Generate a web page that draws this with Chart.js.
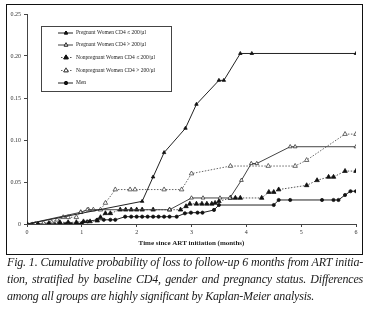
<!DOCTYPE html>
<html>
<head>
<meta charset="utf-8">
<script src="https://cdn.jsdelivr.net/npm/chart.js@4/dist/chart.umd.min.js"></script>
<style>
html, body { margin: 0; padding: 0; background: #fff; width: 368px; height: 314px; overflow: hidden; }
#wrap { position: absolute; left: 0; top: 0; width: 368px; height: 256px; }
#frame { position: absolute; left: 6px; top: 4px; width: 355px; height: 249px; border: 1.5px solid #111; pointer-events: none; }
#caption { position: absolute; left: 7px; top: 254px; width: 356px; font-family: "Liberation Serif", serif; font-style: italic; font-size: 12px; letter-spacing: -0.2px; line-height: 17px; color: #1b1b1b; }
#caption div { white-space: nowrap; }
#caption .j { text-align: justify; text-align-last: justify; }
</style>
</head>
<body>
<div id="wrap"><canvas id="kmChart"></canvas></div>
<div id="frame"></div>
<div id="caption">
  <div class="j">Fig. 1. Cumulative probability of loss to follow-up 6 months from ART initia-</div>
  <div class="j">tion, stratified by baseline CD4, gender and pregnancy status. Differences</div>
  <div>among all groups are highly significant by Kaplan-Meier analysis.</div>
</div>
<script>
const seriesNames = [
    "Pregnant Women CD4 \u2264 200/\u00b5l",
    "Pregnant Women CD4 > 200/\u00b5l",
    "Nonpregnant Women CD4 \u2264 200/\u00b5l",
    "Nonpregnant Women CD4 > 200/\u00b5l",
    "Men"
]

// months since ART start / cumulative probability of loss
const pregLowT = [0, 2.1, 2.3, 2.5, 2.89, 3.09, 3.5, 3.59, 3.89, 4.1, 6.0]
const pregLowP = [0, 0.027, 0.056, 0.085, 0.114, 0.1425, 0.171, 0.171, 0.203, 0.203, 0.203]

const pregHighT = [0, 0.98, 1.1, 2.6, 3.0, 3.21, 3.52, 3.7, 3.91, 4.09, 4.19, 4.8, 4.89, 6.0]
const pregHighP = [0, 0.014, 0.017, 0.017, 0.031, 0.031, 0.031, 0.031, 0.052, 0.072, 0.072, 0.092, 0.092, 0.092]

const nonpregLowT = [0, 0.2, 0.4, 0.6, 0.75, 0.9, 1.03, 1.15, 1.28, 1.34, 1.43, 1.52, 1.7, 1.8, 1.9, 2.0, 2.1, 2.3,
    2.6, 2.8, 2.9, 2.97, 3.09, 3.19, 3.28, 3.37, 3.43, 3.5, 3.71, 3.8, 3.89, 4.28, 4.41, 4.5, 4.59, 5.1, 5.29, 5.5, 5.59, 5.8, 6.0]
const nonpregLowP = [0, 0, 0.001, 0.002, 0.002, 0.002, 0.003, 0.003, 0.004, 0.008, 0.0127, 0.0127, 0.017, 0.017, 0.017, 0.017, 0.017, 0.017,
    0.017, 0.017, 0.021, 0.024, 0.024, 0.024, 0.024, 0.024, 0.025, 0.027, 0.031, 0.031, 0.031, 0.031, 0.038, 0.038, 0.041, 0.046, 0.052, 0.056, 0.056, 0.063, 0.063]

const nonpregHighT = [0, 0.15, 0.3, 0.45, 0.55, 0.66, 0.75, 0.9, 0.98, 1.12, 1.21, 1.34, 1.43, 1.61, 1.88, 1.97, 2.5, 2.82, 3.0, 3.71, 4.4, 4.89, 5.1, 5.8, 6.0]
const nonpregHighP = [0, 0, 0.001, 0.002, 0.005, 0.008, 0.008, 0.008, 0.014, 0.017, 0.017, 0.017, 0.025, 0.041, 0.041, 0.041, 0.041, 0.041, 0.06, 0.069, 0.069, 0.069, 0.076, 0.107, 0.107]

const menT = [0, 0.1, 0.2, 0.3, 0.4, 0.5, 0.6, 0.7, 0.8, 0.9, 1.0, 1.1, 1.28, 1.4, 1.52, 1.61, 1.79, 1.9, 2.0, 2.1, 2.2,
    2.3, 2.4, 2.5, 2.6, 2.73, 2.88, 2.99, 3.11, 3.2, 3.41, 3.5, 4.5, 4.59, 4.8, 5.38, 5.59, 5.68, 5.8, 5.9, 6.0]
const menP = [0, 0, 0, 0, 0, 0, 0, 0, 0, 0, 0.001, 0.003, 0.005, 0.005, 0.005, 0.005, 0.0087, 0.0087, 0.0087, 0.0087, 0.0087,
    0.0087, 0.0087, 0.0087, 0.0087, 0.0087, 0.0127, 0.0135, 0.0135, 0.0135, 0.0167, 0.0226, 0.0226, 0.0286, 0.0286, 0.0286, 0.0286, 0.0286, 0.0345, 0.039, 0.039]

const xTitle = "Time since ART initiation (months)"

function points(t, p) {
    return t.map((v, i) => ({ x: v, y: p[i] }))
}

function series(label, t, p, style) {
    return Object.assign({
        label: label,
        data: points(t, p),
        showLine: true,
        tension: 0,
        borderWidth: 1,
        pointBorderWidth: 0.8
    }, style)
}

const serif = "'Liberation Serif', 'Times New Roman', serif"

// legend drawn as a framed box inside the plot, like the original
const boxLegend = {
    id: "boxLegend",
    afterDraw(chart) {
        const ctx = chart.ctx
        const rows = [33, 45, 57.5, 70.5, 83]
        ctx.save()
        ctx.strokeStyle = "#444"
        ctx.lineWidth = 1
        ctx.strokeRect(41.5, 26.5, 130, 65)
        chart.data.datasets.forEach((ds, i) => {
            const y = rows[i]
            ctx.beginPath()
            ctx.setLineDash(ds.borderDash || [])
            ctx.strokeStyle = ds.borderColor
            ctx.lineWidth = 1
            ctx.moveTo(ds.borderDash ? 61 : 58, y)
            ctx.lineTo(73, y)
            ctx.stroke()
            ctx.setLineDash([])
            Chart.helpers.drawPoint(ctx, {
                pointStyle: ds.pointStyle,
                radius: ds.pointRadius,
                borderWidth: ds.pointBorderWidth,
                rotation: 0
            }, 66, y)
            ctx.fillStyle = ds.pointBackgroundColor
            ctx.strokeStyle = ds.pointBorderColor
            ctx.fill()
            ctx.stroke()
            ctx.fillStyle = "#222"
            ctx.font = "5.5px " + serif
            ctx.textBaseline = "middle"
            ctx.fillText(ds.label, 76, y)
        })
        ctx.restore()
    }
}

new Chart(document.getElementById("kmChart"), {
    type: "scatter",
    data: {
        datasets: [
            series(seriesNames[0], pregLowT, pregLowP, {
                borderColor: "#222", pointStyle: "triangle", pointRadius: 2,
                pointBackgroundColor: "#111", pointBorderColor: "#111"
            }),
            series(seriesNames[1], pregHighT, pregHighP, {
                borderColor: "#444", pointStyle: "triangle", pointRadius: 2.2,
                pointBackgroundColor: "#fff", pointBorderColor: "#333"
            }),
            series(seriesNames[2], nonpregLowT, nonpregLowP, {
                borderColor: "#555", borderDash: [1.5, 1.5], pointStyle: "triangle", pointRadius: 2.6,
                pointBackgroundColor: "#111", pointBorderColor: "#111"
            }),
            series(seriesNames[3], nonpregHighT, nonpregHighP, {
                borderColor: "#666", borderDash: [1.5, 1.5], pointStyle: "triangle", pointRadius: 2.6,
                pointBackgroundColor: "#fff", pointBorderColor: "#444"
            }),
            series(seriesNames[4], menT, menP, {
                borderColor: "#222", pointStyle: "circle", pointRadius: 1.6,
                pointBackgroundColor: "#111", pointBorderColor: "#111"
            })
        ]
    },
    options: {
        responsive: true,
        maintainAspectRatio: false,
        animation: false,
        layout: { padding: { left: 7, right: 12, top: 14, bottom: 0 } },
        plugins: {
            legend: { display: false },
            tooltip: { enabled: false }
        },
        scales: {
            x: {
                type: "linear",
                min: 0,
                max: 6,
                afterFit(scale) { scale.height = 32 },
                border: { color: "#444", width: 1 },
                grid: { drawOnChartArea: false, tickLength: 3, color: "#444" },
                ticks: { stepSize: 1, padding: 2, color: "#333", font: { family: serif, size: 6 } },
                title: {
                    display: true,
                    text: xTitle,
                    color: "#222",
                    padding: { top: 0, bottom: 9 },
                    font: { family: serif, size: 7, weight: "bold" }
                }
            },
            y: {
                min: 0,
                max: 0.25,
                afterFit(scale) { scale.width = 20 },
                border: { color: "#444", width: 1 },
                grid: { drawOnChartArea: false, tickLength: 3, color: "#444" },
                ticks: { stepSize: 0.05, padding: 3, color: "#333", font: { family: serif, size: 6 } }
            }
        }
    },
    plugins: [boxLegend]
})
</script>
</body>
</html>
